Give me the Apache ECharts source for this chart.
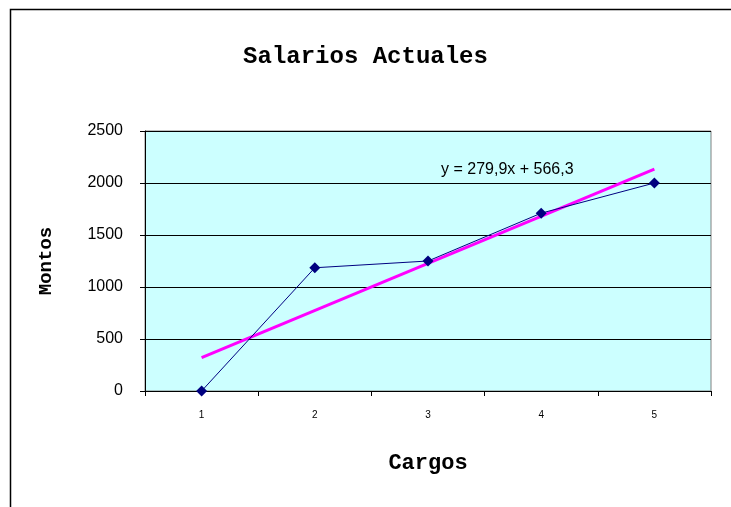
<!DOCTYPE html>
<html>
<head>
<meta charset="utf-8">
<script src="https://cdn.jsdelivr.net/npm/echarts@6/dist/echarts.min.js"></script>
<style>html,body{margin:0;padding:0;background:#fff}#c{width:731px;height:507px}</style>
</head>
<body>
<div id="c"></div>
<script>
var categories = ['1', '2', '3', '4', '5'];
var montos = [0, 1185, 1250, 1710, 2000];
// trend line end points (at categories 1 and 5)
var trend = [322, null, null, null, 2134];
var yTicks = [0, 500, 1000, 1500, 2000, 2500];
var equation = 'y = 279,9x + 566,3';

var chart = echarts.init(document.getElementById('c'), null, {renderer: 'canvas'});
chart.setOption({
  animation: false,
  backgroundColor: '#ffffff',
  title: {
    text: 'Salarios Actuales',
    left: 'center',
    top: 40,
    textStyle: {fontFamily: 'Liberation Mono', fontWeight: 'bold', fontSize: 24, color: '#000'}
  },
  graphic: [
    {type: 'rect', left: 8, top: 7, shape: {width: 760, height: 540},
     style: {fill: 'none', stroke: '#000', lineWidth: 1.5}, silent: true, z: -1},
    {type: 'text', left: 441, top: 162,
     style: {text: equation, fontFamily: 'Liberation Sans', fontSize: 16, fill: '#000'}, z: 10}
  ],
  grid: {left: 145, right: 20, top: 131, bottom: 116, show: true,
         backgroundColor: '#CCFFFF', borderColor: '#808080', borderWidth: 1},
  xAxis: {
    type: 'category',
    data: categories,
    boundaryGap: true,
    name: 'Cargos',
    nameLocation: 'middle',
    nameGap: 61,
    nameTextStyle: {fontFamily: 'Liberation Mono', fontWeight: 'bold', fontSize: 22, color: '#000'},
    axisLine: {lineStyle: {color: '#000', width: 1}},
    axisTick: {show: true, alignWithLabel: false, length: 5, lineStyle: {color: '#000'}},
    axisLabel: {fontFamily: 'Liberation Sans', fontSize: 10, color: '#000', margin: 19},
    splitLine: {show: false}
  },
  yAxis: {
    type: 'value',
    min: yTicks[0],
    max: yTicks[yTicks.length - 1],
    interval: 500,
    name: 'Montos',
    nameLocation: 'middle',
    nameRotate: 90,
    nameGap: 89,
    nameTextStyle: {fontFamily: 'Liberation Mono', fontWeight: 'bold', fontSize: 19, color: '#000'},
    axisLine: {show: true, lineStyle: {color: '#000', width: 1}},
    axisTick: {show: true, length: 5, lineStyle: {color: '#000'}},
    axisLabel: {fontFamily: 'Liberation Sans', fontSize: 16, color: '#000', margin: 22,
                formatter: function (v) { return String(v); }},
    splitLine: {show: true, lineStyle: {color: '#000', width: 1}}
  },
  series: [
    {
      name: 'Montos',
      type: 'line',
      data: montos,
      symbol: 'diamond',
      symbolSize: 11,
      lineStyle: {color: '#000080', width: 1},
      itemStyle: {color: '#000080'},
      z: 3
    },
    {
      name: 'Tendencia',
      type: 'line',
      data: trend,
      connectNulls: true,
      symbol: 'none',
      lineStyle: {color: '#FF00FF', width: 3},
      z: 2
    }
  ]
});
</script>
</body>
</html>
